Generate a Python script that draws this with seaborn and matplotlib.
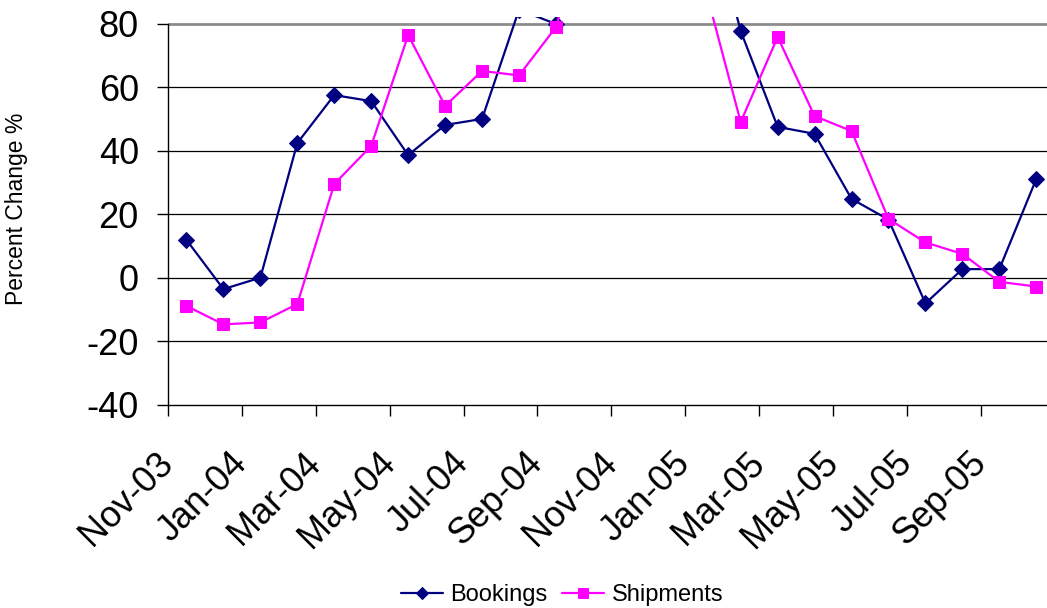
import numpy as np
import pandas as pd
import matplotlib
matplotlib.use("Agg")
import matplotlib.pyplot as plt
import seaborn as sns

months = ["Nov-03", "Dec-03", "Jan-04", "Feb-04", "Mar-04", "Apr-04", "May-04", "Jun-04",
          "Jul-04", "Aug-04", "Sep-04", "Oct-04", "Nov-04", "Dec-04", "Jan-05", "Feb-05",
          "Mar-05", "Apr-05", "May-05", "Jun-05", "Jul-05", "Aug-05", "Sep-05", "Oct-05"]
bookings = [12.0, -3.5, 0.1, 42.5, 57.6, 55.7, 38.7, 48.2, 50.1, 84.5, 80.0, 119, 130, 128,
            122, 77.8, 47.6, 45.4, 24.9, 18.4, -8.0, 2.8, 2.8, 31.2]
shipments = [-8.8, -14.6, -14.0, -8.2, 29.6, 41.6, 76.5, 54.2, 65.2, 63.8, 79.0, 120, 125, 110,
             93, 49.1, 75.9, 51.0, 46.3, 18.6, 11.2, 7.6, -1.2, -2.7]
yticks = [-40, -20, 0, 20, 40, 60, 80]

sns.set_style("ticks")
plt.rcParams['font.family'] = ['Liberation Sans', 'DejaVu Sans']
plt.rcParams['text.color'] = 'black'
plt.rcParams['xtick.color'] = 'black'
plt.rcParams['ytick.color'] = 'black'

df = pd.DataFrame({"pos": np.arange(len(months)), "month": months,
                   "Bookings": bookings, "Shipments": shipments})

fig = plt.figure(figsize=(10.47, 6.08), dpi=100)
ax = fig.add_axes([168 / 1047, 1 - 405 / 608, 1 - 168 / 1047, (405 - 17) / 608])

for y in [-20, 0, 20, 40, 60]:
    ax.axhline(y, color="black", lw=0.9, zorder=1)
ax.axhline(80, color="#8c8c8c", lw=2.0, zorder=1)

sns.lineplot(data=df, x="pos", y="Bookings", ax=ax, color="#000080", lw=1.6,
             marker="D", markersize=8, markeredgecolor="#000080", label="Bookings",
             legend=False, zorder=3)
sns.lineplot(data=df, x="pos", y="Shipments", ax=ax, color="#FF00FF", lw=1.6,
             marker="s", markersize=9, markeredgecolor="#FF00FF", label="Shipments",
             legend=False, zorder=4)

ax.set_xlim(-0.5, 23.29)
ax.set_ylim(-40, 82.2)
ax.set_yticks(yticks)
ax.set_yticklabels([str(v) for v in yticks])
tick_pos = np.arange(0, len(months), 2) - 0.5
ax.set_xticks(tick_pos)
ax.set_xticklabels(months[::2], rotation=45, ha="right", va="center",
                   rotation_mode="anchor")
ax.tick_params(axis="y", labelsize=26, length=8, width=1, color="black", pad=13,
               direction="out", labelcolor="black")
ax.tick_params(axis="x", labelsize=26, length=8, width=1, color="black", pad=30,
               direction="out", labelcolor="black")
ax.set_xlabel("")
ax.set_ylabel("")
sns.despine(ax=ax, top=True, right=True)
ax.spines["left"].set_bounds(-40, 80)
ax.spines["left"].set_color("black")
ax.spines["bottom"].set_color("black")
ax.spines["left"].set_linewidth(1)
ax.spines["bottom"].set_linewidth(1)

fig.text(17 / 1047, 1 - 209 / 608, "Percent Change %", rotation=90,
         ha="center", va="center", fontsize=16.5, color="black")

handles, labels = ax.get_legend_handles_labels()
leg = fig.legend(handles, labels, loc="center", bbox_to_anchor=(562 / 1047, 1 - 595 / 608),
                 ncol=2, frameon=False, fontsize=17, handlelength=1.8, handletextpad=0.3,
                 columnspacing=0.6, borderpad=0, markerscale=0.8)
for t in leg.get_texts():
    t.set_color("black")

fig.savefig("out.png", dpi=100)
